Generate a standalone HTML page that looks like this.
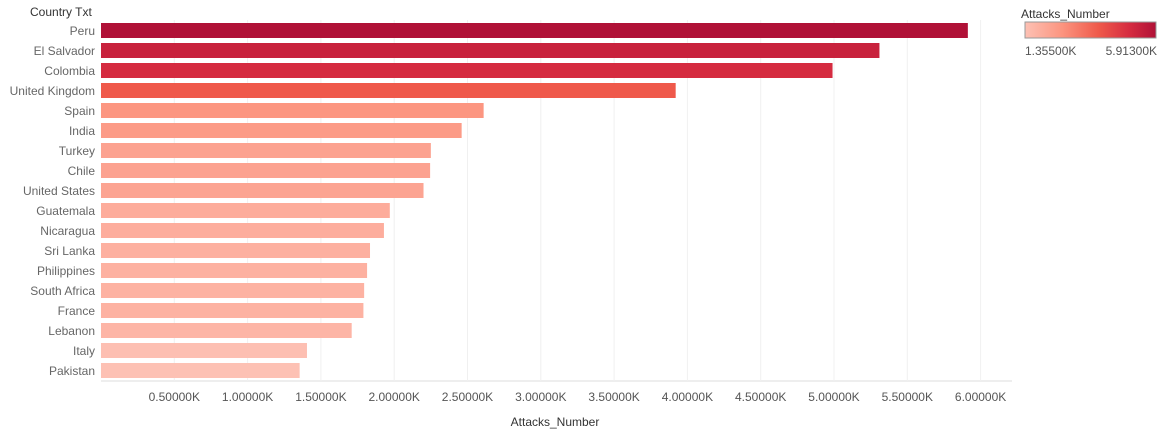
<!DOCTYPE html>
<html><head><meta charset="utf-8"><style>
body{margin:0;background:#fff;font-family:"Liberation Sans",sans-serif;}
svg text{font-family:"Liberation Sans",sans-serif;}
</style></head><body>
<svg id="c" width="1161" height="437">
<text x="30" y="16" font-size="12" fill="#333">Country Txt</text>
<text x="1021" y="18" font-size="12" fill="#333">Attacks_Number</text>
<defs><linearGradient id="g"><stop offset="0" stop-color="#fdc1b4"/><stop offset="0.28" stop-color="#fc9580"/><stop offset="0.56" stop-color="#ef5a4b"/><stop offset="0.8" stop-color="#d52b40"/><stop offset="1" stop-color="#b01137"/></linearGradient></defs>
<rect x="1025" y="22" width="131" height="16" fill="url(#g)" stroke="#999"/>
<text x="1025" y="55" font-size="12" fill="#555">1.35500K</text>
<text x="1157" y="55" font-size="12" fill="#555" text-anchor="end">5.91300K</text>
<text x="555" y="426" font-size="12" fill="#333" text-anchor="middle">Attacks_Number</text>
<g id="grid"></g><g id="bars"></g><g id="ticks"></g>
</svg>
<script>
const countries=["Peru","El Salvador","Colombia","United Kingdom","Spain","India","Turkey","Chile","United States","Guatemala","Nicaragua","Sri Lanka","Philippines","South Africa","France","Lebanon","Italy","Pakistan"];
const values=[5.913,5.31,4.99,3.92,2.61,2.46,2.25,2.245,2.2,1.97,1.93,1.835,1.815,1.795,1.79,1.71,1.405,1.355];
const tickVals=[0.5,1,1.5,2,2.5,3,3.5,4,4.5,5,5.5,6];
const tickLabels=["0.50000K","1.00000K","1.50000K","2.00000K","2.50000K","3.00000K","3.50000K","4.00000K","4.50000K","5.00000K","5.50000K","6.00000K"];
const NS="http://www.w3.org/2000/svg";
const x=v=>101+v*146.6;
const y=i=>23+i*20;
const vmin=1.355,vmax=5.913;
const stops=[[0,[253,193,180]],[0.28,[252,149,128]],[0.56,[239,90,75]],[0.8,[213,43,64]],[1,[176,17,55]]];
function col(v){let t=(v-vmin)/(vmax-vmin);t=Math.max(0,Math.min(1,t));
for(let k=1;k<stops.length;k++){if(t<=stops[k][0]){const a=stops[k-1],b=stops[k];const f=(t-a[0])/(b[0]-a[0]);
return "rgb("+a[1].map((c,j)=>Math.round(c+(b[1][j]-c)*f)).join(",")+")";}}return "rgb(176,17,55)";}
function mk(t,at,p){const e=document.createElementNS(NS,t);for(const k in at)e.setAttribute(k,at[k]);p.appendChild(e);return e;}
const grid=document.getElementById('grid'),bars=document.getElementById('bars'),ticks=document.getElementById('ticks');
const gl=mk('line',{x1:101,x2:1012,y1:381,y2:381,stroke:'#ddd'},grid);


tickVals.forEach((v,i)=>{
 const l=mk('line',{x1:x(v),x2:x(v),y1:20,y2:381,stroke:'#f0f0f0'},grid);
 
 
 const t=mk('text',{x:x(v),y:401,'font-size':12,fill:'#555','text-anchor':'middle'},ticks);
 t.textContent=tickLabels[i];
 
 
});
countries.forEach((c,i)=>{
 const r=mk('rect',{x:101,y:y(i),width:x(values[i])-101,height:15,fill:col(values[i])},bars);
 
 
 const t=mk('text',{x:95,y:y(i)+12,'font-size':12,fill:'#666','text-anchor':'end'},bars);
 t.textContent=c;
 
 
});
</script>
</body></html>
